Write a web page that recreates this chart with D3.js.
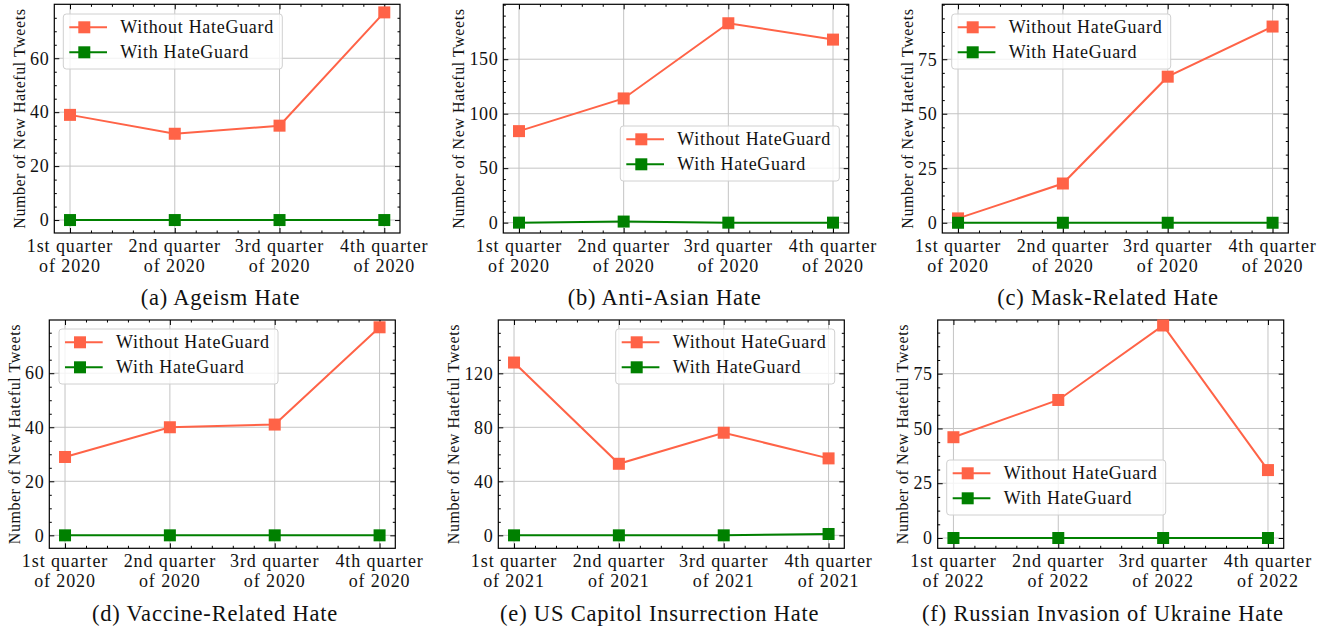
<!DOCTYPE html>
<html>
<head>
<meta charset="utf-8">
<script src="https://cdn.jsdelivr.net/npm/d3@7"></script>
<style>
body { margin: 0; background: #fff; }
text { font-family: "Liberation Serif", "Times New Roman", serif; fill: #111; }
</style>
</head>
<body>
<div id="chart"></div>
<script>
// ---- data ----
var quarterNames = ["1st quarter", "2nd quarter", "3rd quarter", "4th quarter"];
var panelYears = ["2020", "2020", "2020", "2020", "2021", "2022"];
var captions = ["(a) Ageism Hate", "(b) Anti-Asian Hate", "(c) Mask-Related Hate",
                "(d) Vaccine-Related Hate", "(e) US Capitol Insurrection Hate",
                "(f) Russian Invasion of Ukraine Hate"];
var seriesNames = ["Without HateGuard", "With HateGuard"];

var withoutAgeism = [39, 32, 35, 77];
var withAgeism = [0, 0, 0, 0];
var withoutAntiAsian = [84, 114, 183, 168];
var withAntiAsian = [0, 1, 0, 0];
var withoutMask = [2, 18, 67, 90];
var withMask = [0, 0, 0, 0];
var withoutVaccine = [29, 40, 41, 77];
var withVaccine = [0, 0, 0, 0];
var withoutCapitol = [128, 53, 76, 57];
var withCapitol = [0, 0, 0, 1];
var withoutUkraine = [46, 63, 97, 31];
var withUkraine = [0, 0, 0, 0];

var yTicks = [[0, 20, 40, 60], [0, 50, 100, 150], [0, 25, 50, 75],
              [0, 20, 40, 60], [0, 40, 80, 120], [0, 25, 50, 75]];
var yMinorStep = [5, 10, 6.25, 5, 10, 6.25];
var yDomains = [[-4.8, 80], [-9.5, 200.4], [-4.7, 100.2],
                [-4.8, 79.7], [-9.6, 159.5], [-4.7, 99.5]];

var seriesData = [
    [withoutAgeism, withAgeism], [withoutAntiAsian, withAntiAsian], [withoutMask, withMask],
    [withoutVaccine, withVaccine], [withoutCapitol, withCapitol], [withoutUkraine, withUkraine]
];

// ---- layout (pixels) ----
var colors = ["#ff6347", "#008000"];
var panels = [
    {left: 54.3, right: 400, top: 4.3, bottom: 233, capX: 220.5, capY: 305, legX: 63.3, legY: 14},
    {left: 503.3, right: 848.7, top: 4.3, bottom: 233, capX: 664.7, capY: 305, legX: 620.3, legY: 126},
    {left: 942.3, right: 1288.3, top: 4.3, bottom: 233, capX: 1108, capY: 305, legX: 951.7, legY: 14},
    {left: 49.3, right: 395.3, top: 320, bottom: 548.3, capX: 215, capY: 621, legX: 59, legY: 329},
    {left: 498.3, right: 844.3, top: 320, bottom: 548.3, capX: 659.7, capY: 621, legX: 615.7, legY: 329},
    {left: 937.7, right: 1283.7, top: 320, bottom: 548.3, capX: 1103, capY: 621, legX: 946.7, legY: 460}
];

var svg = d3.select("#chart")
    .append("svg")
    .attr("width", 1329)
    .attr("height", 627);

panels.forEach(function(p, i) { drawPanel(p, i); });

function drawPanel(p, i) {
    var g = svg.append("g");

    var x = d3.scaleLinear().domain([-0.15, 3.15]).range([p.left, p.right]);
    var y = d3.scaleLinear().domain(yDomains[i]).range([p.bottom, p.top]);
    var xMajor = d3.range(quarterNames.length);
    var xMinor = d3.range(-0.2, 3.2001, 0.2).filter(function(v) {
        return v >= -0.15 && v <= 3.15 && Math.abs(v - Math.round(v)) > 1e-6;
    });
    var yMinor = d3.range(0, yDomains[i][1], yMinorStep[i])
        .concat(d3.range(-yMinorStep[i], yDomains[i][0], -yMinorStep[i]))
        .filter(function(v) { return yTicks[i].indexOf(v) < 0; });

    // grid
    g.selectAll(".vgrid").data(xMajor).enter().append("line")
        .attr("x1", function(d) { return x(d); }).attr("x2", function(d) { return x(d); })
        .attr("y1", p.top).attr("y2", p.bottom)
        .attr("stroke", "#c4c4c4").attr("stroke-width", 1);
    g.selectAll(".hgrid").data(yTicks[i]).enter().append("line")
        .attr("x1", p.left).attr("x2", p.right)
        .attr("y1", function(d) { return y(d); }).attr("y2", function(d) { return y(d); })
        .attr("stroke", "#c4c4c4").attr("stroke-width", 1);

    // ticks on all four sides, pointing in
    function addAxis(axis, tx, ty) {
        var a = g.append("g").attr("transform", "translate(" + tx + "," + ty + ")").call(axis);
        a.select(".domain").remove();
        a.selectAll("line").attr("stroke", "#000").attr("stroke-width", 1);
        return a;
    }
    addAxis(d3.axisBottom(x).tickValues(xMajor).tickSizeInner(-5).tickSizeOuter(0).tickFormat(""), 0, p.bottom);
    addAxis(d3.axisBottom(x).tickValues(xMinor).tickSizeInner(-2.5).tickSizeOuter(0).tickFormat(""), 0, p.bottom);
    addAxis(d3.axisTop(x).tickValues(xMajor).tickSizeInner(-5).tickSizeOuter(0).tickFormat(""), 0, p.top);
    addAxis(d3.axisTop(x).tickValues(xMinor).tickSizeInner(-2.5).tickSizeOuter(0).tickFormat(""), 0, p.top);
    var yAx = addAxis(d3.axisLeft(y).tickValues(yTicks[i]).tickSizeInner(-5).tickSizeOuter(0)
        .tickPadding(5).tickFormat(d3.format("d")), p.left, 0);
    addAxis(d3.axisLeft(y).tickValues(yMinor).tickSizeInner(-2.5).tickSizeOuter(0).tickFormat(""), p.left, 0);
    addAxis(d3.axisRight(y).tickValues(yTicks[i]).tickSizeInner(-5).tickSizeOuter(0).tickFormat(""), p.right, 0);
    addAxis(d3.axisRight(y).tickValues(yMinor).tickSizeInner(-2.5).tickSizeOuter(0).tickFormat(""), p.right, 0);

    yAx.attr("font-family", null).attr("font-size", null);
    yAx.selectAll("text")
        .style("font-size", "18px")
        .style("letter-spacing", "0.6px")
        .attr("fill", "#111");

    // frame
    g.append("rect")
        .attr("x", p.left).attr("y", p.top)
        .attr("width", p.right - p.left).attr("height", p.bottom - p.top)
        .attr("fill", "none").attr("stroke", "#000").attr("stroke-width", 1.2);

    // x tick labels (two lines)
    var xl = g.selectAll(".xlab").data(xMajor).enter().append("text")
        .attr("text-anchor", "middle")
        .style("font-size", "18px")
        .style("letter-spacing", "0.9px");
    xl.append("tspan")
        .attr("x", function(d) { return x(d); })
        .attr("y", p.bottom + 19)
        .text(function(d) { return quarterNames[d]; });
    xl.append("tspan")
        .attr("x", function(d) { return x(d); })
        .attr("y", p.bottom + 38.5)
        .text(function() { return "of " + panelYears[i]; });

    // y label
    var maxW = d3.max(yAx.selectAll("text").nodes(), function(n) { return n.getBBox().width; });
    var lx = p.left - 5 - maxW - 5;
    g.append("text")
        .attr("transform", "translate(" + lx + "," + ((p.top + p.bottom) / 2) + ") rotate(-90)")
        .attr("text-anchor", "middle")
        .style("font-size", "16px")
        .style("letter-spacing", "0.55px")
        .text("Number of New Hateful Tweets");

    // lines + markers
    var line = d3.line()
        .x(function(d, j) { return x(j); })
        .y(function(d) { return y(d); });
    seriesData[i].forEach(function(vals, s) {
        g.append("path")
            .datum(vals)
            .attr("d", line)
            .attr("fill", "none")
            .attr("stroke", colors[s])
            .attr("stroke-width", 2);
        g.selectAll(".m" + s).data(vals).enter().append("rect")
            .attr("x", function(d, j) { return x(j) - 6; })
            .attr("y", function(d) { return y(d) - 6; })
            .attr("width", 12).attr("height", 12)
            .attr("fill", colors[s]);
    });

    // legend
    var lg = g.append("g").attr("transform", "translate(" + p.legX + "," + p.legY + ")");
    lg.append("rect")
        .attr("width", 219).attr("height", 55)
        .attr("rx", 3).attr("ry", 3)
        .attr("fill", "#fff").attr("fill-opacity", 0.8)
        .attr("stroke", "#d0d0d0").attr("stroke-width", 1);
    seriesNames.forEach(function(name, s) {
        var ry = 13.3 + s * 25;
        lg.append("line")
            .attr("x1", 6).attr("x2", 43.7).attr("y1", ry).attr("y2", ry)
            .attr("stroke", colors[s]).attr("stroke-width", 2);
        lg.append("rect")
            .attr("x", 21 - 6).attr("y", ry - 6).attr("width", 12).attr("height", 12)
            .attr("fill", colors[s]);
        lg.append("text")
            .attr("x", 57).attr("y", ry + 6)
            .style("font-size", "18px")
            .style("letter-spacing", "0.7px")
            .text(name);
    });

    // caption
    g.append("text")
        .attr("x", p.capX).attr("y", p.capY)
        .attr("text-anchor", "middle")
        .style("font-size", "22.5px")
        .style("letter-spacing", "0.8px")
        .text(captions[i]);
}
</script>
</body>
</html>
